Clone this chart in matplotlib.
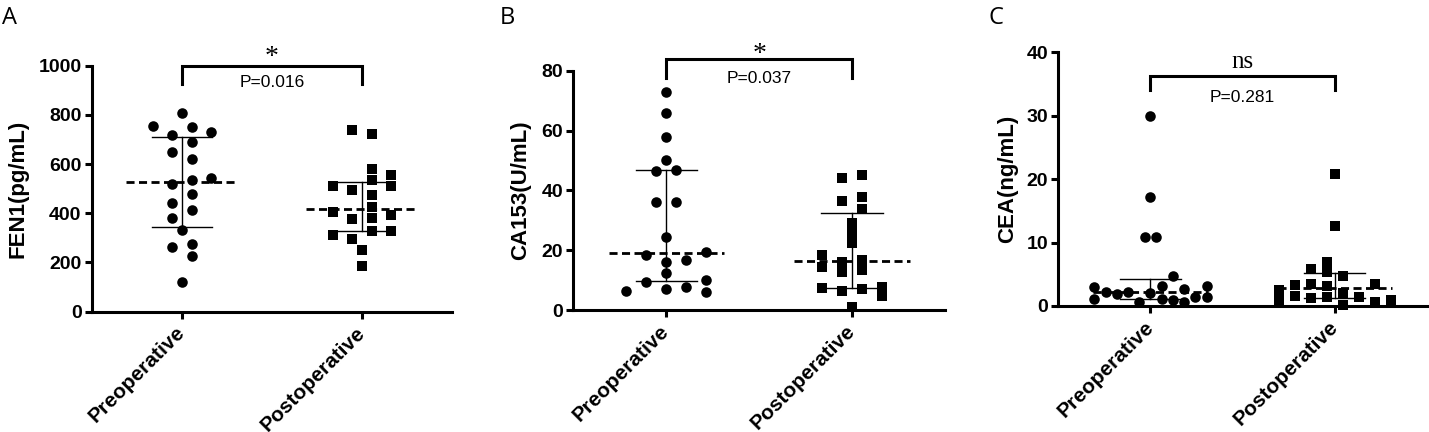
import numpy as np
import matplotlib
matplotlib.use('Agg')
import matplotlib.pyplot as plt

plt.rcParams['lines.scale_dashes'] = False

groups = ['Preoperative', 'Postoperative']

# Panel A: FEN1 (pg/mL)
fen1_pre = [806, 755, 752, 729, 718, 689, 650, 622, 542, 535, 518, 477, 441, 413, 382, 332, 264, 275, 228, 122]
fen1_pre_slot = [0, -3, 1, 3, -1, 1, -1, 1, 3, 1, -1, 1, -1, 1, -1, 0, -1, 1, 1, 0]
fen1_post = [739, 722, 579, 556, 511, 511, 535, 495, 473, 427, 407, 393, 377, 380, 312, 329, 329, 294, 251, 186]
fen1_post_slot = [-1, 1, 1, 3, 3, -3, 1, -1, 1, 1, -3, 3, -1, 1, -3, 1, 3, -1, 0, 0]

# Panel B: CA153 (U/mL)
ca153_pre = [73.0, 65.8, 58.0, 50.2, 46.6, 46.8, 36.2, 36.2, 24.3, 18.4, 19.5, 16.2, 16.7, 12.3, 9.5, 10.0, 6.4, 6.9, 7.8, 5.9]
ca153_pre_slot = [0, 0, 0, 0, -1, 1, -1, 1, 0, -2, 4, 0, 2, 0, -2, 4, -4, 0, 2, 4]
ca153_post = [44.0, 45.2, 36.6, 37.7, 33.7, 29.2, 25.9, 22.3, 18.4, 14.3, 16.2, 12.8, 16.7, 13.4, 7.3, 6.4, 6.9, 7.8, 4.7, 1.1]
ca153_post_slot = [-1, 1, -1, 1, 1, 0, 0, 0, -3, -3, -1, -1, 1, 1, -3, -1, 1, 3, 3, 0]

# Panel C: CEA (ng/mL)
cea_pre = [30.0, 17.2, 10.8, 10.8, 4.7, 2.95, 1.05, 2.26, 1.9, 2.16, 0.68, 2.1, 3.1, 1.05, 0.95, 2.6, 0.7, 1.35, 3.15, 1.35]
cea_pre_slot = [0, 0, -0.5, 0.5, 2, -5, -5, -4, -3, -2, -1, 0, 1, 1, 2, 3, 3, 4, 5, 5]
cea_post = [20.8, 12.6, 2.45, 0.9, 3.3, 1.55, 5.8, 3.4, 1.2, 7.0, 5.3, 3.15, 1.47, 4.8, 2.0, 0.16, 1.47, 3.45, 0.68, 0.9]
cea_post_slot = [0, 0, -3.5, -3.5, -2.5, -2.5, -1.5, -1.5, -1.5, -0.5, -0.5, -0.5, -0.5, 0.5, 0.5, 0.5, 1.5, 2.5, 2.5, 3.5]

panels = [
    dict(letter='A', pre=fen1_pre, pre_slot=fen1_pre_slot, post=fen1_post, post_slot=fen1_post_slot,
         slot_w=(0.053, 0.053), ylabel='FEN1(pg/mL)', ylim=1000, ystep=200,
         rect=[0.0644, 0.2785, 0.2519, 0.5694], ylab_x=-0.205,
         br_top=1000, br_bot=925, sig='*', sig_y=1007, p='P=0.016', p_y=912,
         letter_x=1.7),
    dict(letter='B', pre=ca153_pre, pre_slot=ca153_pre_slot, post=ca153_post, post_slot=ca153_post_slot,
         slot_w=(0.054, 0.054), ylabel='CA153(U/mL)', ylim=80, ystep=20,
         rect=[0.4012, 0.2824, 0.2601, 0.5539], ylab_x=-0.143,
         br_top=83.8, br_bot=77.4, sig='*', sig_y=83.3, p='P=0.037', p_y=76.0,
         letter_x=500),
    dict(letter='C', pre=cea_pre, pre_slot=cea_pre_slot, post=cea_post, post_slot=cea_post_slot,
         slot_w=(0.061, 0.087), ylabel='CEA(ng/mL)', ylim=40, ystep=10,
         rect=[0.7406, 0.2917, 0.2580, 0.5873], ylab_x=-0.138,
         br_top=36.3, br_bot=34.1, sig='ns', sig_y=37.5, p='P=0.281', p_y=32.2,
         letter_x=988),
]

W, H = 1429, 432
fig = plt.figure(figsize=(W / 100, H / 100), dpi=100)

SANS = 'Liberation Sans'
SERIF = 'Liberation Serif'
lw_axis = 2.2

for pan in panels:
    ax = fig.add_axes(pan['rect'])
    for gi, (vals, slots, marker, ms) in enumerate([
            (pan['pre'], pan['pre_slot'], 'o', 7.6),
            (pan['post'], pan['post_slot'], 's', 7.0)]):
        vals = np.asarray(vals, dtype=float)
        xs = gi + np.asarray(slots, dtype=float) * pan['slot_w'][gi]
        med = np.percentile(vals, 50, method='weibull')
        q1 = np.percentile(vals, 25, method='weibull')
        q3 = np.percentile(vals, 75, method='weibull')
        # median dashed
        ax.plot([gi - 0.31, gi + 0.31], [med, med], color='black', lw=2.0,
                dashes=(5.8, 3.2), zorder=2, solid_capstyle='butt')
        # IQR
        ax.plot([gi - 0.165, gi + 0.165], [q1, q1], color='black', lw=1.0, zorder=2)
        ax.plot([gi - 0.165, gi + 0.165], [q3, q3], color='black', lw=1.0, zorder=2)
        ax.plot([gi, gi], [q1, q3], color='black', lw=1.0, zorder=2)
        ax.plot(xs, vals, linestyle='none', marker=marker, ms=ms, color='black',
                markeredgewidth=0, zorder=5, clip_on=False)

    ax.set_xlim(-0.5, 1.5)
    ax.set_ylim(0, pan['ylim'])
    ax.set_yticks(np.arange(0, pan['ylim'] + 1, pan['ystep']))
    ax.set_xticks([0, 1])
    ax.set_xticklabels(groups, rotation=45, ha='right', va='center',
                       rotation_mode='anchor', fontsize=15, fontweight='bold', family=SANS)
    for lab in ax.get_yticklabels():
        lab.set_fontsize(14)
        lab.set_fontweight('bold')
        lab.set_family(SANS)
    ax.spines['top'].set_visible(False)
    ax.spines['right'].set_visible(False)
    ax.spines['left'].set_linewidth(lw_axis)
    ax.spines['bottom'].set_linewidth(lw_axis)
    ax.tick_params(axis='y', length=5, width=lw_axis, pad=2.5)
    ax.tick_params(axis='x', length=5, width=lw_axis, pad=8)
    ax.set_ylabel(pan['ylabel'], fontsize=16, fontweight='bold', family=SANS, va='center')
    ax.yaxis.set_label_coords(pan['ylab_x'], 0.5)

    # significance bracket
    ax.plot([0, 0, 1, 1], [pan['br_bot'], pan['br_top'], pan['br_top'], pan['br_bot']],
            color='black', lw=lw_axis, clip_on=False, solid_joinstyle='miter', zorder=6)
    sig_size = 20 if pan['sig'] == '*' else 18
    ax.text(0.5, pan['sig_y'], pan['sig'], ha='center', va='baseline', fontsize=sig_size,
            family=SERIF, clip_on=False)
    ax.text(0.5, pan['p_y'], pan['p'], ha='center', va='baseline', fontsize=12.5,
            family=SANS, clip_on=False)

    fig.text(pan['letter_x'] / W, 1 - 24 / H, pan['letter'], ha='left', va='baseline',
             fontsize=17, family='Open Sans')

fig.savefig('out.png', dpi=100)
